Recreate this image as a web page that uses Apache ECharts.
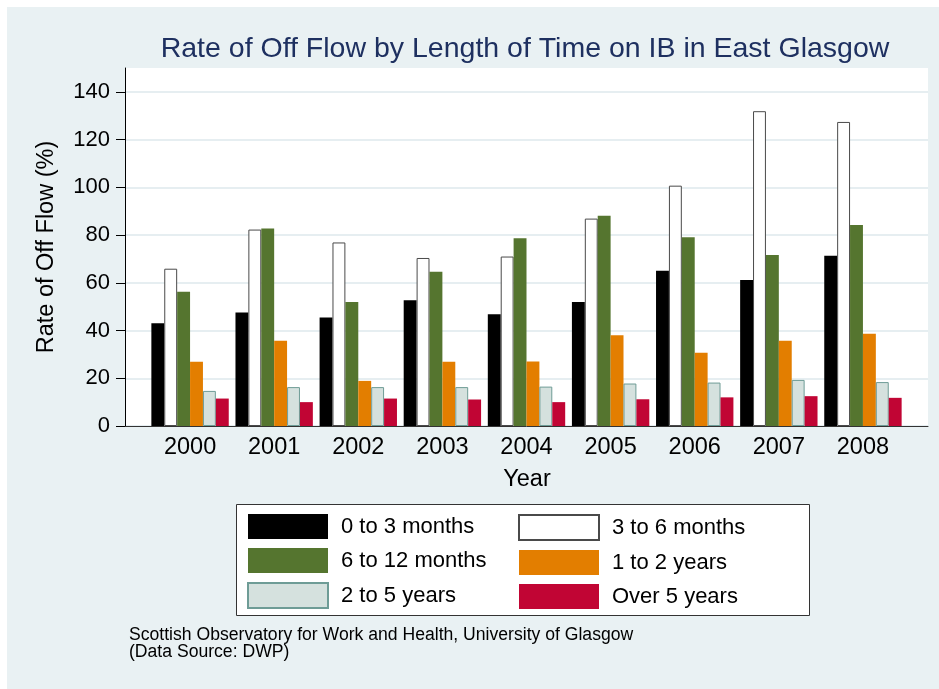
<!DOCTYPE html>
<html>
<head>
<meta charset="utf-8">
<script src="https://cdn.jsdelivr.net/npm/echarts@6/dist/echarts.min.js"></script>
<style>
  html, body { margin: 0; padding: 0; background: #fff; }
  #main { width: 939px; height: 689px; }
</style>
</head>
<body>
<div id="main"></div>
<script>
var years = ['2000', '2001', '2002', '2003', '2004', '2005', '2006', '2007', '2008'];
var yTicks = [0, 20, 40, 60, 80, 100, 120, 140];

var m0to3   = [43.0, 47.6, 45.5, 52.7, 46.8, 52.0, 65.1, 61.2, 71.3];
var m3to6   = [65.9, 82.3, 76.9, 70.4, 71.0, 86.9, 100.7, 131.9, 127.4];
var m6to12  = [56.2, 82.7, 52.0, 64.6, 78.7, 88.1, 79.1, 71.6, 84.2];
var y1to2   = [26.9, 35.7, 18.9, 26.9, 27.0, 38.0, 30.7, 35.7, 38.6];
var y2to5   = [14.7, 16.3, 16.3, 16.3, 16.5, 17.8, 18.2, 19.3, 18.4];
var yOver5  = [11.5, 10.0, 11.5, 11.1, 10.0, 11.2, 12.0, 12.5, 11.8];

var FONT = '"Liberation Sans", Arial, sans-serif';

var chart = echarts.init(document.getElementById('main'));

function barSeries(name, data, fill, border) {
    return {
        name: name,
        type: 'bar',
        xAxisIndex: 1,
        yAxisIndex: 1,
        data: data,
        barGap: '0%',
        barCategoryGap: '8%',
        itemStyle: {
            color: fill,
            borderColor: border || fill,
            borderWidth: border ? 1 : 0
        }
    };
}

var legendText = { fontSize: 22, color: '#000', fontFamily: FONT, lineHeight: 25, padding: [0, 0, 0, 8] };

var option = {
    backgroundColor: '#fff',
    animation: false,
    textStyle: { fontFamily: FONT },
    graphic: [
        { // grey-blue outer panel
            type: 'rect', z: -100,
            shape: { x: 7, y: 7, width: 932, height: 682 },
            style: { fill: '#E9F1F3' }
        },
        {
            type: 'text', z: 10,
            x: 525, y: 49,
            style: {
                text: 'Rate of Off Flow by Length of Time on IB in East Glasgow',
                fill: '#1E3060', font: '28.5px ' + FONT,
                align: 'center', verticalAlign: 'middle'
            }
        },
        {
            type: 'text', z: 10,
            x: 47, y: 247, rotation: Math.PI / 2,
            style: {
                text: 'Rate of Off Flow (%)', fill: '#000', font: '23.5px ' + FONT,
                align: 'center', verticalAlign: 'middle'
            }
        },
        {
            type: 'text', z: 10,
            x: 527, y: 480,
            style: {
                text: 'Year', fill: '#000', font: '23.5px ' + FONT,
                align: 'center', verticalAlign: 'middle'
            }
        },
        { // legend box
            type: 'rect', z: 1,
            shape: { x: 236.5, y: 504.5, width: 573, height: 111 },
            style: { fill: '#fff', stroke: '#333', lineWidth: 1 }
        },
        {
            type: 'text', z: 10,
            x: 129, y: 627,
            style: {
                text: 'Scottish Observatory for Work and Health, University of Glasgow\n(Data Source: DWP)',
                fill: '#000', font: '17.6px ' + FONT, lineHeight: 17,
                align: 'left', verticalAlign: 'top'
            }
        }
    ],
    legend: [
        {
            orient: 'vertical', left: 247, top: 514, padding: 0,
            itemWidth: 80, itemHeight: 25, itemGap: 9,
            icon: 'rect',
            data: ['0 to 3 months', '6 to 12 months', '2 to 5 years'],
            textStyle: legendText
        },
        {
            orient: 'vertical', left: 518, top: 514, padding: 0,
            itemWidth: 80, itemHeight: 25, itemGap: 9,
            icon: 'rect',
            data: ['3 to 6 months', '1 to 2 years', 'Over 5 years'],
            textStyle: legendText
        }
    ],
    grid: [
        { // plot region with axes and gridlines
            show: true, backgroundColor: '#fff', borderWidth: 0,
            left: 125, right: 11, top: 68, bottom: 263
        },
        { // bars, inset like Stata's outer gap
            left: 148, right: 34, top: 68, bottom: 263
        }
    ],
    xAxis: [
        {
            gridIndex: 0, type: 'value', min: 0, max: 1,
            axisLine: { show: true, lineStyle: { color: '#333', width: 1 } },
            axisTick: { show: false }, axisLabel: { show: false }, splitLine: { show: false }
        },
        {
            gridIndex: 1, type: 'category', data: years,
            axisLine: { show: false }, axisTick: { show: false },
            axisLabel: { fontSize: 23.5, color: '#000', margin: 10, fontFamily: FONT }
        }
    ],
    yAxis: [
        {
            gridIndex: 0, type: 'value', min: 0, max: 150, interval: 20,
            axisLine: { show: true, lineStyle: { color: '#000', width: 1 } },
            axisTick: { show: true, length: 9, customValues: yTicks, lineStyle: { color: '#000' } },
            axisLabel: { fontSize: 22, color: '#000', margin: 15, customValues: yTicks, fontFamily: FONT },
            splitLine: { show: true, lineStyle: { color: '#E6EEF1', width: 2 } }
        },
        {
            gridIndex: 1, type: 'value', min: 0, max: 150,
            axisLine: { show: false }, axisTick: { show: false },
            axisLabel: { show: false }, splitLine: { show: false }
        }
    ],
    series: [
        barSeries('0 to 3 months', m0to3, '#000000'),
        barSeries('3 to 6 months', m3to6, '#ffffff', '#4a4a4a'),
        barSeries('6 to 12 months', m6to12, '#55752F'),
        barSeries('1 to 2 years', y1to2, '#E37E00'),
        barSeries('2 to 5 years', y2to5, '#D5E1DE', '#6E9C96'),
        barSeries('Over 5 years', yOver5, '#C10534')
    ]
};

chart.setOption(option);
</script>
</body>
</html>
